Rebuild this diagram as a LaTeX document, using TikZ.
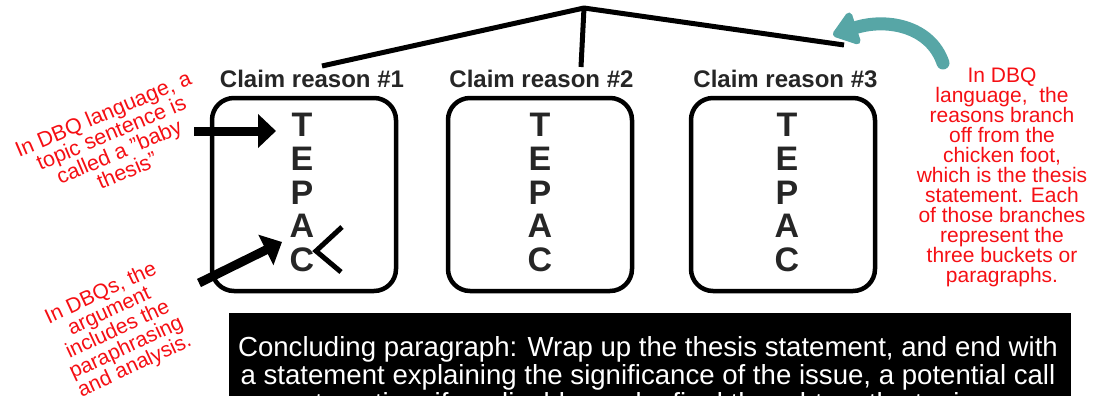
\documentclass[tikz,border=0pt]{standalone}
\usepackage{fontspec}
\setmainfont{Liberation Sans}
\usetikzlibrary{arrows.meta}
\definecolor{ink}{RGB}{38,38,38}
\definecolor{redtxt}{RGB}{245,15,20}
\definecolor{tealc}{RGB}{87,166,166}
\begin{document}
\begin{tikzpicture}[x=1pt,y=-1pt,
  bucket/.style={draw, line width=4.5pt, rounded corners=22pt, minimum width=184pt, minimum height=193pt, inner sep=0pt},
  tepac/.style={font=\fontsize{34}{33.7}\selectfont\bfseries, text=ink, align=center, inner sep=0pt},
  claim/.style={font=\fontsize{24}{28}\selectfont\bfseries, text=ink, inner sep=0pt},
  note/.style={font=\fontsize{21}{20}\selectfont, text=redtxt, align=center, inner sep=0pt},
  foot/.style={line width=5pt, line join=round},
  bigarrow/.style={line width=9pt, -{Triangle[length=18pt,width=33pt]}},
  concl/.style={font=\fontsize{27.6}{28}\selectfont, text=white, inner sep=0pt, anchor=base}]
\useasboundingbox (0,0) rectangle (1095,396);
\clip (0,0) rectangle (1095,396);

% buckets
\node[bucket] (b1) at (304,194.5) {};
\node[bucket] (b2) at (540,194.5) {};
\node[bucket] (b3) at (783,194.5) {};
\node[tepac] (l1) at (302,192.5) {T\\E\\P\\A\\C};
\node[tepac] (l2) at (540,192.5) {T\\E\\P\\A\\C};
\node[tepac] (l3) at (787,192.5) {T\\E\\P\\A\\C};

% claim labels
\node[claim] (c1) at (312,79) {Claim reason \#1};
\node[claim] (c2) at (541.5,79) {Claim reason \#2};
\node[claim] (c3) at (785.5,79) {Claim reason \#3};

% chicken foot
\coordinate (apex) at (584,8);
\coordinate (f1) at (322,66);
\coordinate (f2) at (581,67);
\coordinate (f3) at (844,45);
\draw[foot] (f1) -- (apex) -- (f3);
\draw[foot] (apex) -- (f2);

% teal arrow
\coordinate (tl) at (943,63);
\coordinate (tip) at (833,35);
\draw[tealc, line width=13pt, line cap=round, -{Triangle[length=27pt,width=38pt,round]}] (tl) .. controls (930,25) and (885,18) .. (tip);

% red notes
\node[note, rotate=23, font=\fontsize{21.5}{20.5}\selectfont] (n1) at (115,142) {In DBQ language, a\\topic sentence is\\called a "baby\\thesis"};
\node[note, rotate=25] (n2) at (118,330) {In DBQs, the\\argument\\includes the\\paraphrasing\\and analysis.};
\node[note] (n3) at (1002,177) {In DBQ\\language,\ \ the\\reasons branch\\off from the\\chicken foot,\\which is the thesis\\statement. Each\\of those branches\\represent the\\three buckets or\\paragraphs.};

% black arrows
\coordinate (a1s) at (194,131);
\coordinate (a1e) at (276,131);
\draw[bigarrow] (a1s) -- (a1e);
\coordinate (a2s) at (199,283);
\coordinate (a2e) at (282,242);
\draw[bigarrow] (a2s) -- (a2e);

% check mark near C
\coordinate (m1) at (342,227);
\coordinate (m2) at (316,251);
\coordinate (m3) at (341,272);
\draw[line width=5pt] (m1) -- (m2) -- (m3);

% concluding box
\node[fill=black, minimum width=842pt, minimum height=100pt, anchor=north west, inner sep=0pt] (cbox) at (229,313) {};
\node[concl] (cl1) at (648,356) {Concluding paragraph: Wrap up the thesis statement, and end with};
\node[concl] (cl2) at (648,384) {a statement explaining the significance of the issue, a potential call};
\node[concl] (cl3) at (648,412) {to action, if applicable, and a final thought on the topic.};
\end{tikzpicture}
\end{document}
